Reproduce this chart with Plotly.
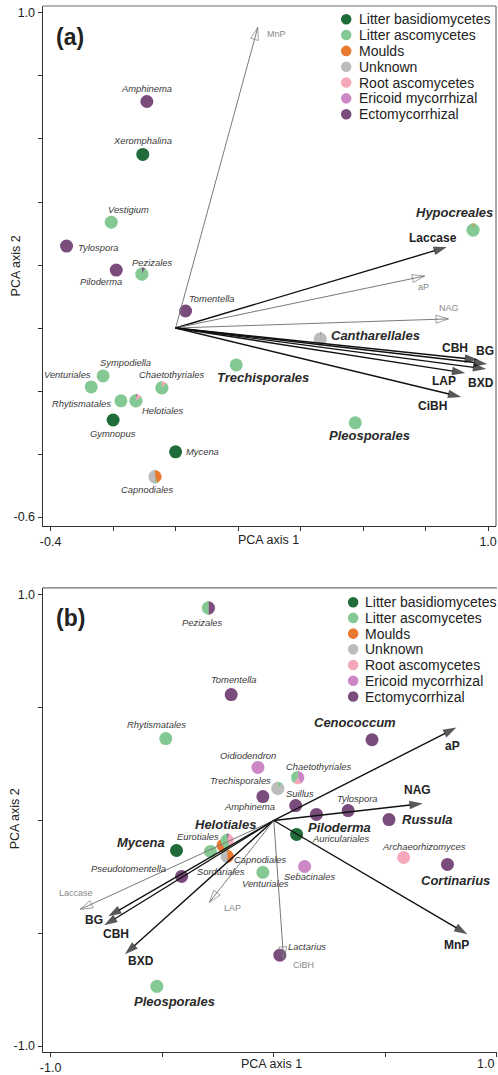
import math
import plotly.graph_objects as go

W, H = 498, 1075
FONT = "Liberation Sans, Arial, Helvetica, sans-serif"

# ---------------- data ----------------
categories = ["Litter basidiomycetes", "Litter ascomycetes", "Moulds", "Unknown",
              "Root ascomycetes", "Ericoid mycorrhizal", "Ectomycorrhizal"]
cat_codes = ["LB", "LA", "MO", "UN", "RA", "ER", "EC"]
cat_colors = ["#1f6b39", "#84c993", "#e8792f", "#bcbcbc", "#f5a8b9", "#cc88c5", "#7a4c7c"]

# Panel (a): fungal taxa scores
a_names = ["Amphinema", "Xeromphalina", "Vestigium", "Tylospora", "Piloderma", "Pezizales",
           "Tomentella", "Sympodiella", "Venturiales", "Chaetothyriales", "Rhytismatales",
           "Helotiales", "Gymnopus", "Mycena", "Capnodiales", "Trechisporales",
           "Cantharellales", "Pleosporales", "Hypocreales"]
a_x = [-0.092, -0.105, -0.206, -0.349, -0.190, -0.108, 0.032, -0.232, -0.270, -0.044,
       -0.175, -0.127, -0.200, 0.000, -0.066, 0.194, 0.463, 0.575, 0.952]
a_y = [0.719, 0.551, 0.336, 0.260, 0.184, 0.171, 0.054, -0.152, -0.187, -0.190,
       -0.231, -0.231, -0.292, -0.393, -0.472, -0.117, -0.035, -0.301, 0.311]
a_comp = [[("EC", 1)], [("LB", 1)], [("LA", 1)], [("EC", 1)], [("EC", 1)],
          [("EC", 0.08), ("LA", 0.92)], [("EC", 1)], [("LA", 1)], [("LA", 1)],
          [("RA", 0.12), ("LA", 0.88)], [("LA", 1)],
          [("EC", 0.03), ("RA", 0.12), ("LA", 0.85)], [("LB", 1)], [("LB", 1)],
          [("MO", 0.45), ("LA", 0.05), ("UN", 0.50)], [("LA", 1)],
          [("EC", 0.02), ("UN", 0.98)], [("LA", 1)], [("MO", 0.05), ("LA", 0.95)]]
a_bold = ["Trechisporales", "Cantharellales", "Pleosporales", "Hypocreales"]

# Panel (a): enzyme loadings
a_enz = ["MnP", "Laccase", "aP", "NAG", "CBH", "BG", "BXD", "LAP", "CiBH"]
a_ex = [0.263, 0.868, 0.797, 0.873, 0.968, 0.997, 0.994, 0.927, 0.914]
a_ey = [0.954, 0.257, 0.165, 0.029, -0.101, -0.114, -0.130, -0.143, -0.219]
a_sig = [False, True, False, False, True, True, True, True, True]

# Panel (b): fungal taxa scores
b_names = ["Pezizales", "Tomentella", "Rhytismatales", "Cenococcum", "Oidiodendron",
           "Chaetothyriales", "Trechisporales", "Amphinema", "Suillus", "Tylospora",
           "Piloderma", "Russula", "Auriculariales", "Archaeorhizomyces", "Cortinarius",
           "Sebacinales", "Venturiales", "Lactarius", "Eurotiales", "Helotiales",
           "Capnodiales", "Sordariales", "Mycena", "Pseudotomentella", "Pleosporales"]
b_x = [-0.293, -0.191, -0.484, 0.440, -0.071, 0.107, 0.018, -0.049, 0.098, 0.333,
       0.191, 0.516, 0.102, 0.582, 0.778, 0.138, -0.049, 0.027, -0.227, -0.209,
       -0.209, -0.284, -0.436, -0.413, -0.524]
b_y = [0.942, 0.558, 0.363, 0.358, 0.235, 0.190, 0.142, 0.106, 0.066, 0.044,
       0.027, 0.004, -0.062, -0.164, -0.195, -0.204, -0.230, -0.597, -0.111, -0.088,
       -0.159, -0.137, -0.133, -0.248, -0.735]
b_comp = [[("EC", 0.5), ("LA", 0.5)], [("EC", 1)], [("LA", 1)], [("EC", 1)], [("ER", 1)],
          [("ER", 0.42), ("RA", 0.18), ("LA", 0.40)], [("LA", 0.12), ("UN", 0.88)],
          [("EC", 1)], [("EC", 1)], [("EC", 1)], [("EC", 1)], [("EC", 1)], [("LB", 1)],
          [("RA", 1)], [("EC", 1)], [("ER", 1)], [("LA", 1)], [("EC", 1)],
          [("LA", 0.45), ("MO", 0.55)], [("EC", 0.05), ("RA", 0.40), ("LA", 0.55)],
          [("MO", 0.5), ("UN", 0.5)], [("LA", 1)], [("LB", 1)], [("EC", 1)], [("LA", 1)]]
b_bold = ["Cenococcum", "Piloderma", "Russula", "Cortinarius", "Helotiales", "Mycena",
          "Pleosporales"]

# Panel (b): enzyme loadings
b_enz = ["Laccase", "BG", "CBH", "BXD", "LAP", "CiBH", "MnP", "aP", "NAG"]
b_ex = [-0.867, -0.742, -0.760, -0.667, -0.289, 0.044, 0.867, 0.818, 0.667]
b_ey = [-0.394, -0.425, -0.465, -0.593, -0.363, -0.615, -0.504, 0.412, 0.075]
b_sig = [False, True, True, True, False, False, True, True, True]

# ---------------- layout settings (positions / styles) ----------------
a_lab_off = {"Amphinema": (0, -13), "Xeromphalina": (0, -14), "Vestigium": (17, -13),
             "Tylospora": (31, 1), "Piloderma": (-15, 11), "Pezizales": (10, -12),
             "Tomentella": (26, -13), "Sympodiella": (22, -13), "Venturiales": (-24, -12),
             "Chaetothyriales": (10, -13), "Rhytismatales": (-39, 3), "Helotiales": (27, 10),
             "Gymnopus": (0, 13), "Mycena": (27, 0), "Capnodiales": (-8, 13),
             "Trechisporales": (27, 13), "Cantharellales": (55, -4), "Pleosporales": (14, 13),
             "Hypocreales": (-19, -18)}
a_enz_off = {"MnP": (19, 7), "Laccase": (-14, -9), "aP": (-1, 11), "NAG": (1, -11),
             "CBH": (-23, -12), "BG": (-2, -13), "BXD": (-5, 14), "LAP": (-21, 8),
             "CiBH": (-29, 9)}
b_lab_off = {"Pezizales": (-6, 15), "Tomentella": (3, -15), "Rhytismatales": (-9, -14),
             "Cenococcum": (-17, -17), "Oidiodendron": (-10, -12), "Chaetothyriales": (21, -11),
             "Trechisporales": (-37, -8), "Amphinema": (-13, 10), "Suillus": (4, -12),
             "Tylospora": (9, -12), "Piloderma": (23, 13), "Russula": (39, 0),
             "Auriculariales": (44, 4), "Archaeorhizomyces": (20, -11), "Cortinarius": (8, 16),
             "Sebacinales": (5, 10), "Venturiales": (3, 11), "Lactarius": (27, -9),
             "Eurotiales": (-25, -9), "Helotiales": (-2, -16), "Capnodiales": (33, 3),
             "Sordariales": (11, 20), "Mycena": (-35, -8), "Pseudotomentella": (-53, -8),
             "Pleosporales": (18, 15)}
b_enz_off = {"Laccase": (-4, -16), "BG": (-14, 4), "CBH": (12, 9), "BXD": (16, 7),
             "LAP": (23, 6), "CiBH": (20, 6), "MnP": (-11, 11), "aP": (-4, 18),
             "NAG": (-5, -14)}

panels = {
    "a": dict(xr=[-0.4254, 1.0254], yr=[-0.6285, 1.0222],
              xdom=[40 / W, 497 / W], ydom=[(H - 527) / H, (H - 6) / H],
              xt=[-0.4, -0.2, 0, 0.2, 0.4, 0.6, 0.8, 1.0],
              yt=[-0.6, -0.4, -0.2, 0, 0.2, 0.4, 0.6, 0.8, 1.0],
              lab="(a)", lab_pos=(68, 37), xtitle=(268, 541), ytitle=(13, 266),
              leg_x=346, leg_tx=357, leg_y=19.3, leg_dy=15.85, right_frame=True),
    "b": dict(xr=[-1.0355, 1.0], yr=[-1.0265, 1.031],
              xdom=[40 / W, 1.0], ydom=[21 / H, 486 / H],
              xt=[-1.0, -0.5, 0, 0.5, 1.0], yt=[-1.0, -0.5, 0, 0.5, 1.0],
              lab="(b)", lab_pos=(68, 619), xtitle=(271, 1066), ytitle=(13, 820),
              leg_x=353, leg_tx=363, leg_y=603.3, leg_dy=15.75, right_frame=False),
}

fig = go.Figure()
annotations = []
shapes = []
R_PX = 6.5


def fmt(v):
    return "%.1f" % v


def add_panel(key, axn, names, xs, ys, comps, bold, enz, ex, ey, sig, lab_off, enz_off):
    p = panels[key]
    xref = "x" if axn == 1 else "x%d" % axn
    yref = "y" if axn == 1 else "y%d" % axn
    sx = (p["xdom"][1] - p["xdom"][0]) * W / (p["xr"][1] - p["xr"][0])
    sy = (p["ydom"][1] - p["ydom"][0]) * H / (p["yr"][1] - p["yr"][0])
    rx, ry = R_PX / sx, R_PX / sy

    # points / pies
    for nm, cx, cy, comp in zip(names, xs, ys, comps):
        if len(comp) == 1:
            col = cat_colors[cat_codes.index(comp[0][0])]
            fig.add_trace(go.Scatter(x=[cx], y=[cy], mode="markers", xaxis=xref, yaxis=yref,
                                     marker=dict(size=2 * R_PX, color=col, line=dict(width=0)),
                                     hoverinfo="text", text=[nm], showlegend=False))
        else:
            f0 = 0.0
            for code, frac in comp:
                col = cat_colors[cat_codes.index(code)]
                f1 = f0 + frac
                steps = max(3, int(40 * frac) + 2)
                wx, wy = [cx], [cy]
                for k in range(steps + 1):
                    t = 2 * math.pi * (f0 + (f1 - f0) * k / steps)
                    wx.append(cx + rx * math.sin(t))
                    wy.append(cy + ry * math.cos(t))
                wx.append(cx)
                wy.append(cy)
                fig.add_trace(go.Scatter(x=wx, y=wy, mode="lines", fill="toself", fillcolor=col,
                                         line=dict(color=col, width=0.4), xaxis=xref, yaxis=yref,
                                         hoverinfo="skip", showlegend=False))
                f0 = f1
        dx, dy = lab_off[nm]
        if nm in bold:
            txt = "<b><i>%s</i></b>" % nm
            fnt = dict(family=FONT, size=13, color="#2a2a2a")
        else:
            txt = "<i>%s</i>" % nm
            fnt = dict(family=FONT, size=9.4, color="#3a3a3a")
        annotations.append(dict(x=cx, y=cy, xref=xref, yref=yref, text=txt, showarrow=False,
                                xshift=dx, yshift=-dy, xanchor="center", yanchor="middle",
                                font=fnt))

    # enzyme arrows
    for nm, xe, ye, s in zip(enz, ex, ey, sig):
        if s:
            col, lw, sym, mline = "#111111", 1.4, "arrow", dict(width=0)
        else:
            col, lw, sym, mline = "#7a7a7a", 1.0, "arrow-open", dict(width=1, color="#7a7a7a")
        fig.add_trace(go.Scatter(x=[0, xe], y=[0, ye], mode="lines+markers",
                                 xaxis=xref, yaxis=yref,
                                 line=dict(color=col, width=lw),
                                 marker=dict(symbol=["circle", sym], size=[0, 14 if s else 13],
                                             color=col, angleref="previous", line=mline),
                                 hoverinfo="skip", showlegend=False))
        dx, dy = enz_off[nm]
        if s:
            txt = "<b>%s</b>" % nm
            fnt = dict(family=FONT, size=12, color="#222222")
        else:
            txt = nm
            fnt = dict(family=FONT, size=9, color="#888888")
        annotations.append(dict(x=xe, y=ye, xref=xref, yref=yref, text=txt, showarrow=False,
                                xshift=dx, yshift=-dy, xanchor="center", yanchor="middle",
                                font=fnt))

    # axes
    axfont = dict(family=FONT, size=12.5, color="#222222")
    xt_text = [fmt(v) if i in (0, len(p["xt"]) - 1) else "" for i, v in enumerate(p["xt"])]
    yt_text = [fmt(v) if i in (0, len(p["yt"]) - 1) else "" for i, v in enumerate(p["yt"])]
    xname = "xaxis" if axn == 1 else "xaxis%d" % axn
    yname = "yaxis" if axn == 1 else "yaxis%d" % axn
    common = dict(showgrid=False, zeroline=False, showline=True, linecolor="#333333",
                  linewidth=1.2, ticks="outside", ticklen=4, tickwidth=1.1,
                  tickcolor="#333333", tickfont=axfont, fixedrange=True)
    fig.update_layout(**{
        xname: dict(domain=p["xdom"], range=p["xr"], tickvals=p["xt"], ticktext=xt_text,
                    anchor=yref, **common),
        yname: dict(domain=p["ydom"], range=p["yr"], tickvals=p["yt"], ticktext=yt_text,
                    anchor=xref, **common),
    })

    # last x tick label sitting at the right page edge: keep it fully inside the page
    if not p["right_frame"]:
        annotations.append(dict(x=p["xt"][-1], y=1 - p["xtitle"][1] / H, xref=xref,
                                yref="paper", text=fmt(p["xt"][-1]), showarrow=False,
                                xanchor="right", yanchor="middle", xshift=-1, font=axfont))

    # frame (top / right)
    shapes.append(dict(type="line", xref=xref + " domain", yref=yref + " domain",
                       x0=0, x1=1, y0=1, y1=1, line=dict(color="#6e6e6e", width=1.2)))
    if p["right_frame"]:
        shapes.append(dict(type="line", xref=xref + " domain", yref=yref + " domain",
                           x0=1, x1=1, y0=0, y1=1, line=dict(color="#6e6e6e", width=1.2)))

    # titles
    annotations.append(dict(x=p["xtitle"][0] / W, y=1 - p["xtitle"][1] / H, xref="paper",
                            yref="paper", text="PCA axis 1", showarrow=False,
                            xanchor="center", yanchor="middle", font=axfont))
    annotations.append(dict(x=p["ytitle"][0] / W, y=1 - p["ytitle"][1] / H, xref="paper",
                            yref="paper", text="PCA axis 2", showarrow=False, textangle=-90,
                            xanchor="center", yanchor="middle", font=axfont))
    annotations.append(dict(x=p["lab_pos"][0] / W, y=1 - p["lab_pos"][1] / H, xref="paper",
                            yref="paper", text="<b>%s</b>" % p["lab"], showarrow=False,
                            xanchor="center", yanchor="middle",
                            font=dict(family=FONT, size=23, color="#222222")))

    # legend
    for i, (cat, col) in enumerate(zip(categories, cat_colors)):
        cy_px = p["leg_y"] + i * p["leg_dy"]
        r = 5.3
        shapes.append(dict(type="circle", xref="paper", yref="paper",
                           x0=(p["leg_x"] - r) / W, x1=(p["leg_x"] + r) / W,
                           y0=1 - (cy_px + r) / H, y1=1 - (cy_px - r) / H,
                           fillcolor=col, line=dict(width=0)))
        annotations.append(dict(x=p["leg_tx"] / W, y=1 - cy_px / H, xref="paper", yref="paper",
                                text=cat, showarrow=False, xanchor="left", yanchor="middle",
                                font=dict(family=FONT, size=14, color="#222222")))


add_panel("a", 1, a_names, a_x, a_y, a_comp, a_bold, a_enz, a_ex, a_ey, a_sig,
          a_lab_off, a_enz_off)
add_panel("b", 2, b_names, b_x, b_y, b_comp, b_bold, b_enz, b_ex, b_ey, b_sig,
          b_lab_off, b_enz_off)

fig.update_layout(width=W, height=H, autosize=False,
                  margin=dict(l=0, r=0, t=0, b=0, pad=0),
                  paper_bgcolor="white", plot_bgcolor="white",
                  showlegend=False, annotations=annotations, shapes=shapes,
                  font=dict(family=FONT))

fig.write_html("out.html", config={"displayModeBar": False})
